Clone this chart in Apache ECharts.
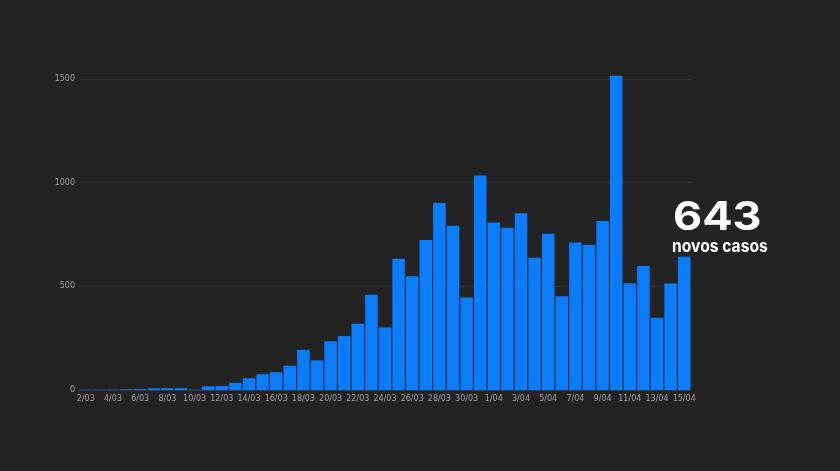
<!DOCTYPE html>
<html><head><meta charset="utf-8">
<script src="https://cdn.jsdelivr.net/npm/echarts@6/dist/echarts.min.js"></script>
<style>html,body{margin:0;padding:0;background:#232323;}#c{width:840px;height:471px;}</style>
</head><body><div id="c"></div>
<script>
const categories = ['2/03','3/03','4/03','5/03','6/03','7/03','8/03','9/03','10/03','11/03','12/03','13/03','14/03','15/03','16/03','17/03','18/03','19/03','20/03','21/03','22/03','23/03','24/03','25/03','26/03','27/03','28/03','29/03','30/03','31/03','1/04','2/04','3/04','4/04','5/04','6/04','7/04','8/04','9/04','10/04','11/04','12/04','13/04','14/04','15/04'];
const newCases = [2,2,2,3,4,8,9,9,2,18,19,34,57,76,86,117,194,143,235,260,320,460,302,633,549,724,902,792,446,1035,808,783,852,638,754,452,712,699,815,1516,515,598,349,514,643];
const yTicks = [0,500,1000,1500];
const headline = '643';
const subline = 'novos casos';

const chart = echarts.init(document.getElementById('c'));
chart.setOption({
  backgroundColor:'#232323',
  animation:false,
  grid:{left:79,right:149,top:79,bottom:81,containLabel:false},
  xAxis:{type:'category',data:categories,
    axisLine:{show:true,lineStyle:{color:'#3a3a3a'}},axisTick:{show:false},
    axisLabel:{interval:1,color:'#a0a0a8',fontSize:8,fontFamily:'DejaVu Sans',margin:5}},
  yAxis:{type:'value',min:0,max:1500,interval:500,
    axisLine:{show:false},axisTick:{show:false},
    splitLine:{lineStyle:{color:'#333333',width:1}},
    axisLabel:{color:'#a0a0a8',fontSize:8,fontFamily:'DejaVu Sans',margin:4,
      formatter:v=>yTicks.includes(v)?String(v):''}},
  series:[{type:'bar',data:newCases,barCategoryGap:'8%',clip:false,
    itemStyle:{color:'#0b7dfc'}}],
  graphic:[
    {type:'text',x:673,y:199,scaleX:1.15,style:{text:headline,fill:'#ffffff',font:'bold 39px Inter'}},
    {type:'text',x:672,y:238,scaleX:0.92,style:{text:subline,fill:'#ffffff',font:'bold 17px Inter'}}
  ]
});
</script></body></html>
